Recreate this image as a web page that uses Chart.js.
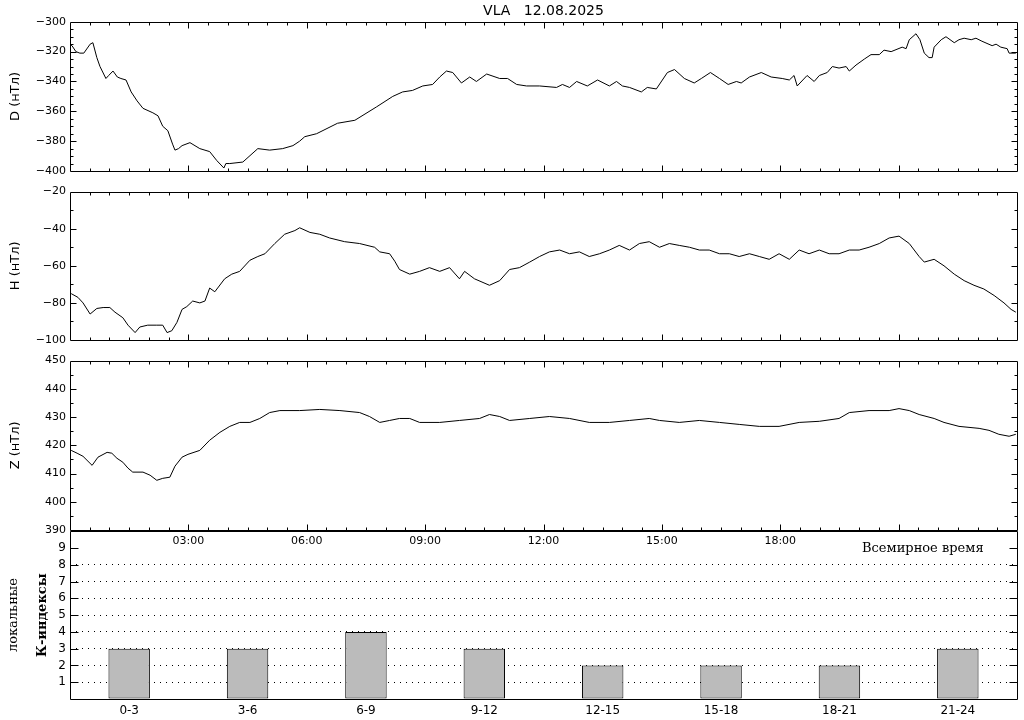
<!doctype html>
<html lang="ru">
<head>
<meta charset="utf-8">
<title>VLA 12.08.2025</title>
<style>
  body { margin: 0; background: #fff; }
  #wrap { position: relative; width: 1024px; height: 720px; overflow: hidden; background: #fff; }
  canvas { position: absolute; left: 0; }
</style>
</head>
<body>
<div id="wrap">
  <canvas id="chartD" width="1024" height="201" style="top:0px"></canvas>
  <canvas id="chartH" width="1024" height="189" style="top:181px"></canvas>
  <canvas id="chartZ" width="1024" height="200" style="top:350px"></canvas>
  <canvas id="chartK" width="1024" height="200" style="top:520px"></canvas>
</div>

<script src="https://cdn.jsdelivr.net/npm/chart.js@4.4.0/dist/chart.umd.min.js"></script>
<script>
// часы UT и значения
const dTime = [0.00,0.05,0.15,0.25,0.35,0.51,0.58,0.68,0.76,0.91,
  0.98,1.09,1.20,1.29,1.42,1.55,1.70,1.85,2.10,2.23,
  2.35,2.48,2.60,2.66,2.75,2.84,3.04,3.29,3.54,3.72,
  3.90,3.95,4.05,4.38,4.76,5.06,5.39,5.65,5.82,5.95,
  6.25,6.78,7.22,7.77,8.18,8.43,8.68,8.94,9.19,9.37,
  9.54,9.70,9.92,10.13,10.30,10.56,10.89,11.09,11.32,11.57,
  11.90,12.33,12.48,12.66,12.84,13.11,13.37,13.67,13.85,14.00,
  14.18,14.48,14.63,14.86,15.14,15.32,15.57,15.82,16.00,16.23,
  16.46,16.68,16.89,17.01,17.22,17.52,17.77,18.05,18.23,18.35,
  18.43,18.68,18.86,18.99,19.19,19.32,19.49,19.67,19.75,19.92,
  20.13,20.30,20.51,20.63,20.81,21.09,21.19,21.27,21.44,21.54,
  21.65,21.77,21.85,21.90,22.08,22.20,22.41,22.53,22.66,22.84,
  22.96,23.11,23.37,23.47,23.59,23.75,23.80,23.97];
const dValue = [-315,-316,-320,-321,-321,-315,-314,-324,-330,-338,
  -336,-333,-337,-338,-339,-347,-353,-358,-361,-363,
  -370,-373,-382,-386,-385,-383,-381,-385,-387,-393,
  -398,-395,-395,-394,-385,-386,-385,-383,-380,-377,
  -375,-368,-366,-357,-350,-347,-346,-343,-342,-337,
  -333,-334,-341,-337,-340,-335,-338,-338,-342,-343,
  -343,-344,-342,-344,-340,-343,-339,-343,-340,-343,
  -344,-347,-344,-345,-334,-332,-338,-341,-338,-334,
  -338,-342,-340,-341,-337,-334,-337,-338,-339,-336,
  -343,-336,-340,-336,-334,-330,-331,-330,-333,-329,
  -325,-322,-322,-319,-320,-317,-318,-312,-308,-312,
  -321,-324,-324,-317,-312,-310,-314,-312,-311,-312,
  -311,-313,-316,-315,-317,-318,-321,-321];

const hTime = [0.03,0.20,0.33,0.51,0.68,0.84,1.01,1.14,1.34,1.47,
  1.65,1.77,1.97,2.20,2.35,2.46,2.58,2.71,2.84,2.96,
  3.11,3.29,3.42,3.54,3.67,3.92,4.10,4.30,4.56,4.76,
  4.94,5.19,5.44,5.70,5.82,6.08,6.33,6.58,6.96,7.34,
  7.72,7.85,8.10,8.23,8.35,8.61,8.86,9.11,9.37,9.62,
  9.87,10.00,10.25,10.63,10.89,11.14,11.39,11.65,11.90,12.15,
  12.41,12.66,12.91,13.16,13.42,13.67,13.92,14.18,14.43,14.68,
  14.94,15.19,15.44,15.70,15.95,16.20,16.46,16.71,16.96,17.22,
  17.47,17.72,17.97,18.23,18.48,18.73,18.99,19.24,19.49,19.75,
  20.00,20.25,20.51,20.76,21.01,21.27,21.52,21.65,21.90,22.15,
  22.41,22.66,22.91,23.16,23.42,23.67,23.85,23.97];
const hValue = [-75,-77,-80,-86,-83,-82.5,-82.5,-85,-88,-92,
  -96,-93,-92,-92,-92,-96,-95,-90.5,-83.5,-82,
  -79,-80,-79,-72,-74,-67,-64.5,-63,-57,-55,
  -53.5,-48,-43,-41,-39.5,-42,-43,-45,-47,-48,
  -50,-52.5,-53.5,-57.5,-62,-64.5,-63,-61,-63,-61,
  -67,-63,-67,-70.5,-68,-62,-61,-58,-55,-52.5,
  -51.5,-53.5,-52.5,-55,-53.5,-51.5,-49,-51.5,-48,-47,
  -50,-48,-49,-50,-51.5,-51.5,-53.5,-53.5,-55,-53.5,
  -55,-56.5,-53.5,-56.5,-51.5,-53.5,-51.5,-53.5,-53.5,-51.5,
  -51.5,-50,-48,-45,-44,-48,-55,-58,-56.5,-60,
  -64.5,-68,-70.5,-72.5,-76,-80,-83.5,-85];

const zTime = [0.03,0.18,0.33,0.56,0.71,0.94,1.06,1.19,1.34,1.47,
  1.59,1.85,2.03,2.20,2.35,2.53,2.66,2.84,2.99,3.29,
  3.54,3.80,4.05,4.30,4.56,4.81,5.06,5.32,5.82,6.33,
  6.84,7.34,7.59,7.85,8.10,8.35,8.61,8.86,9.37,9.87,
  10.38,10.63,10.89,11.14,11.65,12.15,12.66,13.16,13.67,14.18,
  14.68,14.94,15.44,15.95,16.46,16.96,17.47,17.97,18.48,18.99,
  19.49,19.75,20.25,20.76,21.01,21.27,21.52,21.90,22.15,22.53,
  23.04,23.29,23.54,23.80,23.97];
const zValue = [418.2,417.2,416.1,412.9,415.8,417.5,417.2,415.4,414,411.9,
  410.5,410.5,409.4,407.6,408.3,408.7,412.6,415.8,416.8,418.2,
  421.8,424.6,426.7,428.1,428.1,429.5,431.6,432.3,432.3,432.7,
  432.3,431.6,430.2,428.1,428.8,429.5,429.5,428.1,428.1,428.8,
  429.5,430.9,430.2,428.8,429.5,430.2,429.5,428.1,428.1,428.8,
  429.5,428.8,428.1,428.8,428.1,427.4,426.7,426.7,428.1,428.5,
  429.5,431.6,432.3,432.3,433,432.3,430.9,429.5,428.1,426.7,
  426,425.3,423.9,423.2,423.9];

const kLabels = ['0-3', '3-6', '6-9', '9-12', '12-15', '15-18', '18-21', '21-24'];
const kValues = [3, 3, 4, 3, 2, 2, 2, 3];

const tickFont = { family: 'DejaVu Sans', size: 11 };
const fmt = v => v < 0 ? '\u2212' + Math.abs(v) : String(v);
const hh = v => (v < 10 ? '0' : '') + v + ':00';

// рамка и внутренние засечки
const frameTicks = {
  id: 'frameTicks',
  afterDraw(chart, args, o) {
    const { ctx, chartArea: a, scales } = chart;
    const L = Math.round(a.left) + 0.5, R = Math.round(a.right) + 0.5;
    const T = Math.round(a.top) + 0.5, B = Math.round(a.bottom) + 0.5;
    ctx.save();
    ctx.strokeStyle = '#000';
    ctx.lineWidth = 1;
    ctx.beginPath();
    ctx.rect(L, T, R - L, B - T);
    if (o.xStep) {
      const n = Math.round((scales.x.max - scales.x.min) / o.xStep);
      for (let i = 1; i < n; i++) {
        const v = scales.x.min + i * o.xStep;
        const x = Math.round(scales.x.getPixelForValue(v)) + 0.5;
        const len = (i * o.xStep) % o.xMajor === 0 ? o.majorLen : o.minorLen;
        ctx.moveTo(x, T); ctx.lineTo(x, T + len);
        ctx.moveTo(x, B); ctx.lineTo(x, B - len);
      }
    }
    const ny = Math.round((scales.y.max - scales.y.min) / o.yStep);
    for (let i = 1; i < ny; i++) {
      const v = scales.y.min + i * o.yStep;
      const y = Math.round(scales.y.getPixelForValue(v)) + 0.5;
      const len = (i * o.yStep) % o.yMajor === 0 ? o.majorLen : o.minorLen;
      ctx.moveTo(L, y); ctx.lineTo(L + len, y);
      ctx.moveTo(R, y); ctx.lineTo(R - len, y);
    }
    ctx.stroke();
    if (o.texts) o.texts(ctx, a);
    ctx.restore();
  }
};

function lineChart(id, times, values, yMin, yMax, yStep, yMinor, yTitle, showTime, title) {
  const pad = id === 'chartD' ? { top: 0, bottom: 10, left: 0, right: 7 }
            : id === 'chartZ' ? { top: 10, bottom: 0, left: 0, right: 7 }
            : { top: 10, bottom: 10, left: 0, right: 7 };
  return new Chart(document.getElementById(id), {
    type: 'line',
    data: {
      datasets: [{
        data: times.map((t, i) => ({ x: t, y: values[i] })),
        borderColor: '#000',
        borderWidth: 1,
        pointRadius: 0,
        tension: 0
      }]
    },
    options: {
      responsive: false,
      animation: false,
      layout: { padding: pad },
      plugins: {
        legend: { display: false },
        tooltip: { enabled: false },
        title: title ? {
          display: true, text: title, color: '#000', fullSize: false,
          font: { family: 'DejaVu Sans', size: 14, weight: 'normal' },
          padding: { top: 3, bottom: 2 }
        } : { display: false },
        frameTicks: { xStep: 0.5, xMajor: 3, yStep: yMinor, yMajor: yStep, majorLen: 6, minorLen: 3 }
      },
      scales: {
        x: {
          type: 'linear', min: 0, max: 24,
          display: showTime,
          afterFit(s) { s.height = 20; },
          border: { display: false },
          grid: { display: false, drawTicks: false },
          ticks: {
            stepSize: 3, padding: 5, maxRotation: 0, autoSkip: false,
            color: '#000', font: tickFont,
            callback: v => (v > 0 && v < 21) ? hh(v) : ''
          }
        },
        y: {
          min: yMin, max: yMax,
          afterFit(s) { s.width = 70; },
          border: { display: false },
          grid: { display: false, drawTicks: false },
          ticks: { stepSize: yStep, padding: 4, autoSkip: false, color: '#000', font: tickFont, callback: fmt },
          title: {
            display: true, text: yTitle, color: '#000',
            font: { family: 'DejaVu Sans', size: 13 },
            padding: { top: 8, bottom: 0 }
          }
        }
      }
    },
    plugins: [frameTicks]
  });
}

lineChart('chartD', dTime, dValue, -400, -300, 20, 5, 'D (нТл)', false, 'VLA   12.08.2025');
lineChart('chartH', hTime, hValue, -100, -20, 20, 10, 'H (нТл)', false, null);
lineChart('chartZ', zTime, zValue, 390, 450, 10, 5, 'Z (нТл)', true, null);

new Chart(document.getElementById('chartK'), {
  type: 'bar',
  data: {
    labels: kLabels,
    datasets: [{
      data: kValues,
      backgroundColor: '#bbbbbb',
      borderColor: '#000',
      borderWidth: 1,
      borderSkipped: false,
      barPercentage: 0.35,
      categoryPercentage: 1
    }]
  },
  options: {
    responsive: false,
    animation: false,
    layout: { padding: { top: 10, bottom: 0, left: 0, right: 7 } },
    plugins: {
      legend: { display: false },
      tooltip: { enabled: false },
      frameTicks: {
        yStep: 1, yMajor: 1, majorLen: 8, minorLen: 8,
        texts(ctx, a) {
          ctx.fillStyle = '#000';
          ctx.textBaseline = 'middle';
          ctx.textAlign = 'left';
          ctx.font = '13px "DejaVu Serif"';
          ctx.fillText('Всемирное время', a.right - 155, a.top + 17);
          const cy = (a.top + a.bottom) / 2;
          ctx.textAlign = 'center';
          ctx.save();
          ctx.translate(14, cy);
          ctx.rotate(-Math.PI / 2);
          ctx.fillText('локальные', 0, 0);
          ctx.restore();
          ctx.save();
          ctx.translate(43, cy);
          ctx.rotate(-Math.PI / 2);
          ctx.font = 'bold 13px "DejaVu Serif"';
          ctx.fillText('К-индексы', 0, 0);
          ctx.restore();
        }
      }
    },
    scales: {
      x: {
        afterFit(s) { s.height = 21; },
        border: { display: false },
        grid: { display: false, drawTicks: false },
        ticks: { padding: 5, autoSkip: false, color: '#000', font: { family: 'DejaVu Sans', size: 12 }, maxRotation: 0 }
      },
      y: {
        min: 0, max: 10,
        afterFit(s) { s.width = 70; },
        border: { display: false, dash: [1, 5] },
        grid: {
          drawTicks: false,
          color: c => (c.tick && c.tick.value >= 1 && c.tick.value <= 8) ? '#000' : 'rgba(0,0,0,0)'
        },
        ticks: {
          stepSize: 1, padding: 4, autoSkip: false, color: '#000', font: { family: 'DejaVu Sans', size: 12 },
          callback: v => (v >= 1 && v <= 9) ? String(v) : ''
        }
      }
    }
  },
  plugins: [frameTicks]
});
</script>
</body>
</html>
